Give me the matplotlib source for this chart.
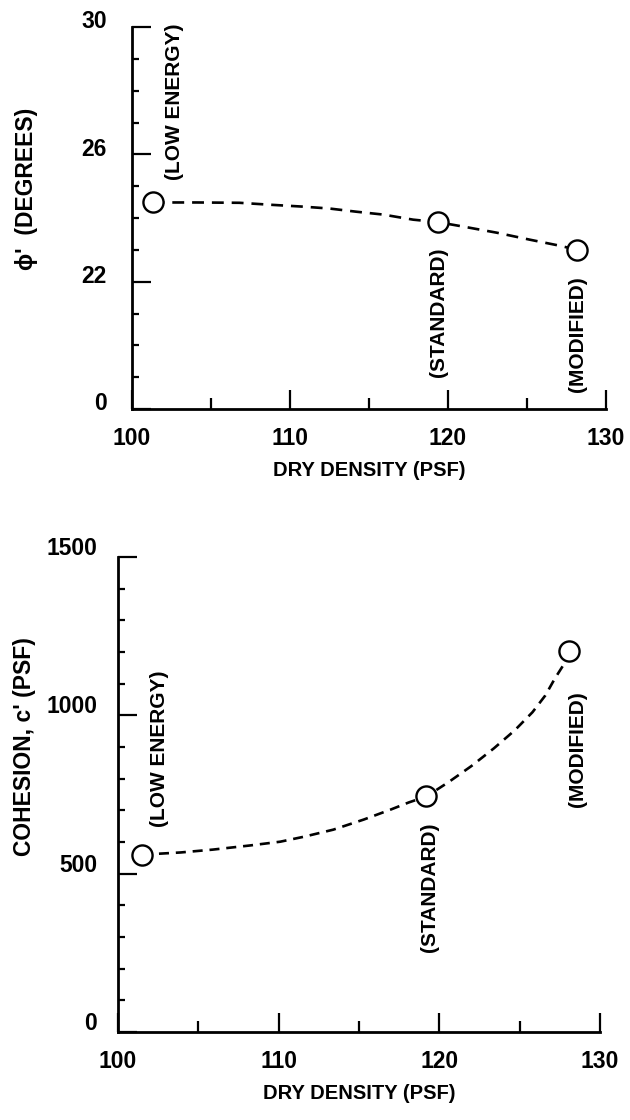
import matplotlib
matplotlib.use("Agg")
import matplotlib.pyplot as plt
from matplotlib.ticker import FixedLocator
from matplotlib.transforms import ScaledTranslation

plt.rcParams['font.family'] = ['Liberation Sans', 'DejaVu Sans']
plt.rcParams['font.weight'] = 'bold'

# --------------------------------
# data
labels = ['(LOW ENERGY)', '(STANDARD)', '(MODIFIED)']

density_phi = [101.3, 119.4, 128.2]
phi = [24.5, 23.87, 23.0]
# trend curve drawn through the phi points
phi_curve_x = [101.3, 104.1, 106.8, 108.7, 110.8, 112.5, 114.2, 115.9,
               117.8, 119.4, 121.0, 123.1, 125.2, 127.1, 128.2]
phi_curve_y = [24.49, 24.49, 24.48, 24.42, 24.36, 24.30, 24.20, 24.11,
               23.95, 23.87, 23.73, 23.54, 23.32, 23.13, 23.0]
# broken axis: bottom of the axis is labelled 0
phi_ticks = [18, 22, 26, 30]
phi_ticklabels = ['0', '22', '26', '30']

density_c = [101.5, 119.2, 128.1]
cohesion = [560, 744, 1203]
c_curve_x = [101.5, 103.9, 105.9, 108.2, 110.1, 111.6, 113.4, 115.3, 117.0,
             118.1, 119.2, 120.6, 122.0, 123.4, 124.7, 125.8, 126.6, 127.2,
             127.8, 128.1]
c_curve_y = [560, 567, 576, 589, 601, 617, 639, 671, 703, 725, 744, 790,
             840, 896, 953, 1010, 1063, 1117, 1165, 1203]
c_ticks = [0, 500, 1000, 1500]

x_ticks = [100, 110, 120, 130]


def style_axis(ax, ypad, ylift):
    for s in ['top', 'right']:
        ax.spines[s].set_visible(False)
    for s in ['left', 'bottom']:
        ax.spines[s].set_linewidth(2)
    ax.set_xlim(100, 130)
    ax.set_xticks(x_ticks)
    ax.xaxis.set_minor_locator(FixedLocator([105, 115, 125]))
    ax.tick_params(axis='both', which='both', direction='in', width=1.6,
                   labelsize=16.5)
    ax.tick_params(axis='x', which='major', length=14, pad=13)
    ax.tick_params(axis='x', which='minor', length=8)
    ax.tick_params(axis='y', which='major', length=14, pad=ypad)
    ax.tick_params(axis='y', which='minor', length=5)
    # labels sit a little above their ticks in the original
    for tk in ax.yaxis.get_major_ticks():
        tk.label1.set_transform(tk.label1.get_transform()
                                + ScaledTranslation(0, ylift / 72, fig.dpi_scale_trans))
    ax.set_xlabel('DRY DENSITY (PSF)', fontsize=14.5, fontweight='bold',
                  labelpad=8)


fig = plt.figure(figsize=(6.3, 11.2), dpi=100)

# --------------------------------
# phi' vs dry density
ax1 = fig.add_axes([0.2095, 0.6348, 0.752, 0.341])
ax1.set_ylim(18, 30)
ax1.set_yticks(phi_ticks)
ax1.set_yticklabels(phi_ticklabels)
ax1.yaxis.set_minor_locator(FixedLocator([19, 20, 21, 23, 24, 25, 27, 28, 29]))
style_axis(ax1, 18, 5.5)

line, = ax1.plot(phi_curve_x, phi_curve_y, color='black', lw=1.9)
line.set_dashes([4.5, 3])
ax1.plot(density_phi, phi, 'o', ms=14.5, mfc='white', mec='black', mew=1.7)

ax1.text(102.7, 25.2, labels[0], rotation=90, ha='center', va='bottom', fontsize=15)
ax1.text(119.4, 23.07, labels[1], rotation=90, ha='center', va='top', fontsize=15)
ax1.text(128.2, 22.16, labels[2], rotation=90, ha='center', va='top', fontsize=15)

fig.text(27 / 630, 1 - 189 / 1120, "\u03d5'  (DEGREES)", rotation=90,
         ha='center', va='center', fontsize=16.5, fontweight='bold')

# --------------------------------
# cohesion vs dry density
ax2 = fig.add_axes([0.1873, 0.0786, 0.765, 0.424])
ax2.set_ylim(0, 1500)
ax2.set_yticks(c_ticks)
ax2.yaxis.set_minor_locator(FixedLocator([v for v in range(100, 1500, 100)
                                          if v % 500 != 0]))
style_axis(ax2, 15, 8)

line, = ax2.plot(c_curve_x, c_curve_y, color='black', lw=1.9)
line.set_dashes([3.8, 2.6])
ax2.plot(density_c, cohesion, 'o', ms=14.5, mfc='white', mec='black', mew=1.7)

ax2.text(102.6, 649, labels[0], rotation=90, ha='center', va='bottom', fontsize=15)
ax2.text(119.4, 661, labels[1], rotation=90, ha='center', va='top', fontsize=15)
ax2.text(128.6, 1076, labels[2], rotation=90, ha='center', va='top', fontsize=15)

fig.text(24 / 630, 1 - 747 / 1120, "COHESION, c' (PSF)", rotation=90,
         ha='center', va='center', fontsize=16.5, fontweight='bold')

plt.savefig("out.png", dpi=100)
